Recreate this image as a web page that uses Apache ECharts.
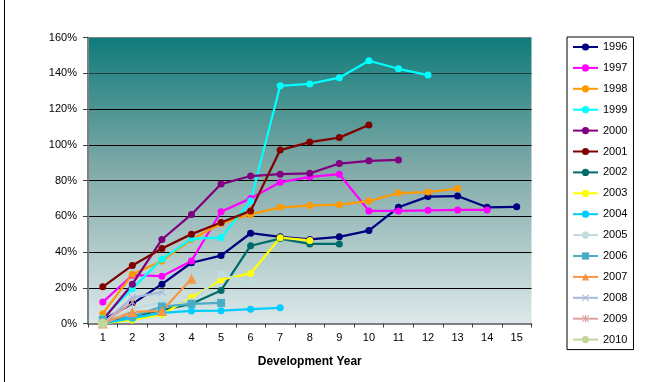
<!DOCTYPE html>
<html>
<head>
<meta charset="utf-8">
<script src="https://cdn.jsdelivr.net/npm/echarts@6/dist/echarts.min.js"></script>
<style>
  html, body { margin: 0; padding: 0; background: #fff; }
  #chart { width: 654px; height: 382px; }
</style>
</head>
<body>
<div id="chart"></div>
<script>
// Development years on the x axis
var devYears = ['1', '2', '3', '4', '5', '6', '7', '8', '9', '10', '11', '12', '13', '14', '15'];

// Cumulative development (%) per accident year
var y1996 = [2, 11, 22, 34, 38, 50.5, 48.5, 47, 48.5, 52, 65, 71, 71.3, 65, 65.3];
var y1997 = [12, 27, 26.5, 35, 62.5, 70, 79, 82, 83.5, 63, 63, 63.3, 63.5, 63.5];
var y1998 = [5.5, 27.5, 35, 47, 56, 61, 65, 66, 66.5, 68.5, 73, 73.5, 75.5];
var y1999 = [3, 19.5, 36, 47.5, 48, 68.5, 133, 134, 137.5, 147, 142.5, 139];
var y2000 = [2, 22, 47, 61, 78, 82.5, 83.5, 84, 89.5, 91, 91.5];
var y2001 = [20.5, 32.5, 42, 50, 56.5, 63, 97, 101.5, 104, 111];
var y2002 = [1, 4, 7.5, 11, 18.5, 43.5, 47.5, 44.5, 44.5];
var y2003 = [0, 2, 5, 14.5, 24.5, 28, 48, 46.5];
var y2004 = [0, 3, 6, 7, 7.2, 8, 8.8];
var y2005 = [0, 8, 12, 12, 27.5, 23];
var y2006 = [2, 4, 9.5, 11, 11.5];
var y2007 = [0, 6.5, 7, 25];
var y2008 = [0, 14.5, 17.5];
var y2009 = [0, 12];
var y2010 = [0];

// Y axis ticks (percent)
var yTicks = [0, 20, 40, 60, 80, 100, 120, 140, 160];

var crossPath = 'path://M0,1L1,0L5,4L9,0L10,1L6,5L10,9L9,10L5,6L1,10L0,9L4,5Z';
var starPath = 'path://M0,1L1,0L5,4L9,0L10,1L6,5L10,9L9,10L5,6L1,10L0,9L4,5Z M4.3,0L5.7,0L5.7,10L4.3,10Z';

var seriesDefs = [
  { name: '1996', data: y1996, color: '#000080', symbol: 'circle', size: 7 },
  { name: '1997', data: y1997, color: '#FF00FF', symbol: 'circle', size: 7 },
  { name: '1998', data: y1998, color: '#FF9900', symbol: 'circle', size: 7 },
  { name: '1999', data: y1999, color: '#00FFFF', symbol: 'circle', size: 7 },
  { name: '2000', data: y2000, color: '#800080', symbol: 'circle', size: 7 },
  { name: '2001', data: y2001, color: '#800000', symbol: 'circle', size: 7 },
  { name: '2002', data: y2002, color: '#006B6B', symbol: 'circle', size: 7 },
  { name: '2003', data: y2003, color: '#FFFF00', symbol: 'circle', size: 7 },
  { name: '2004', data: y2004, color: '#00CCFF', symbol: 'circle', size: 7 },
  { name: '2005', data: y2005, color: '#C0DCDE', symbol: 'circle', size: 8 },
  { name: '2006', data: y2006, color: '#4BACC6', symbol: 'rect', size: 8 },
  { name: '2007', data: y2007, color: '#F79646', symbol: 'triangle', size: 10 },
  { name: '2008', data: y2008, color: '#A9B9DC', symbol: crossPath, size: 8 },
  { name: '2009', data: y2009, color: '#DDA3A2', symbol: starPath, size: 8 },
  { name: '2010', data: y2010, color: '#C3D69B', symbol: 'circle', size: 10 }
];

var series = seriesDefs.map(function (d) {
  return {
    name: d.name,
    type: 'line',
    data: d.data,
    symbol: d.symbol,
    symbolSize: d.size,
    showAllSymbol: true,
    color: d.color,
    lineStyle: { width: 2.25, color: d.color },
    itemStyle: { color: d.color },
    emphasis: { disabled: true },
    animation: false
  };
});

var chart = echarts.init(document.getElementById('chart'), null, { renderer: 'canvas' });

chart.setOption({
  animation: false,
  backgroundColor: '#ffffff',
  textStyle: { fontFamily: 'Arial, "Liberation Sans", sans-serif' },
  grid: {
    left: 88, right: 122.5, top: 37.5, bottom: 58.5,
    show: true,
    borderWidth: 0,
    backgroundColor: new echarts.graphic.LinearGradient(0, 0, 0, 1, [
      { offset: 0, color: '#0F7C7B' },
      { offset: 0.45, color: '#7EA9A7' },
      { offset: 1, color: '#DCE8E9' }
    ])
  },
  legend: {
    orient: 'vertical',
    left: 567,
    top: 37,
    padding: [4, 6, 4, 5],
    itemGap: 8.9,
    itemWidth: 25,
    itemHeight: 9,
    itemTextGap: 3,
    borderColor: '#000',
    borderWidth: 1,
    backgroundColor: '#fff',
    textStyle: { fontSize: 11, color: '#000', lineHeight: 12, fontFamily: 'Arial, "Liberation Sans", sans-serif' },
    data: seriesDefs.map(function (d) { return d.name; })
  },
  xAxis: {
    type: 'category',
    data: devYears,
    boundaryGap: true,
    name: 'Development Year',
    nameLocation: 'middle',
    nameGap: 32,
    nameTextStyle: { fontSize: 12, fontWeight: 'bold', color: '#000' },
    axisLine: { lineStyle: { color: '#808080', width: 2 } },
    axisTick: { show: true, alignWithLabel: false, length: 4, lineStyle: { color: '#404040', width: 1 } },
    axisLabel: { fontSize: 11, color: '#000', margin: 9 },
    splitLine: { show: false }
  },
  yAxis: {
    type: 'value',
    min: 0,
    max: 160,
    interval: 20,
    axisLine: { show: true, lineStyle: { color: '#808080', width: 2 } },
    axisTick: { show: true, length: 5, lineStyle: { color: '#404040' } },
    axisLabel: {
      fontSize: 11, color: '#000', margin: 11,
      formatter: function (v) { return yTicks.indexOf(v) >= 0 ? v + '%' : ''; }
    },
    splitLine: {
      show: true,
      lineStyle: { color: ['#000', '#000', '#000', '#000', '#000', '#000', '#000', '#1e3e3e', '#808080'], width: 1 }
    }
  },
  graphic: [
    { type: 'line', shape: { x1: 4.5, y1: 0, x2: 4.5, y2: 382 }, style: { stroke: '#000', lineWidth: 1 }, silent: true }
  ],
  series: series
});
</script>
</body>
</html>
